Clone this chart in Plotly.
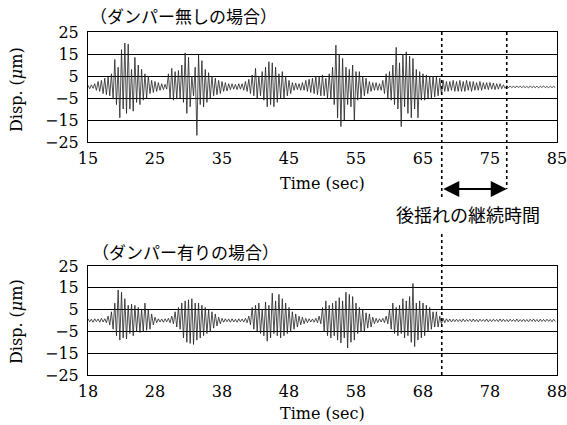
import plotly.graph_objects as go

# ---------------- data ----------------
# Peak displacement (um) in each 0.5 s step: upper peak, then lower peak
t0_top, step = 15.0, 0.5
upper_top = [
    0.8, 1.0, 1.5, 2.5, 3.0, 4.0, 4.5, 6.0, 12.5, 9.0,
    17.0, 20.0, 19.5, 8.0, 13.5, 10.0, 8.0, 6.0, 5.0, 3.0,
    2.5, 2.0, 1.5, 1.2, 6.0, 8.5, 7.0, 7.5, 10.0, 15.5,
    13.5, 5.0, 9.0, 14.5, 12.0, 8.0, 6.5, 5.0, 4.0, 3.0,
    2.5, 2.0, 1.5, 1.5, 1.2, 1.5, 1.5, 2.5, 3.5, 5.5,
    8.5, 5.0, 7.0, 9.0, 11.5, 11.0, 9.0, 6.0, 7.0, 5.0,
    3.0, 2.0, 1.8, 1.5, 2.0, 3.0, 3.5, 4.0, 5.0, 4.5,
    5.5, 4.0, 6.0, 9.0, 19.0, 15.0, 13.0, 9.0, 8.0, 10.0,
    7.0, 7.0, 5.0, 4.0, 2.5, 2.0, 2.0, 1.5, 3.0, 6.0,
    7.0, 10.0, 18.0, 11.0, 15.0, 16.0, 14.0, 13.0, 8.0, 7.0,
    6.0, 5.5, 5.0, 5.0, 4.5, 4.0, 3.0, 2.5, 2.5, 3.0,
    2.5, 3.0, 2.5, 3.0, 2.5, 2.5, 2.0, 2.5, 2.0, 2.0,
    2.0, 1.8, 1.5, 1.5, 1.0, 0.6, 0.5, 0.4, 0.5, 0.4,
    0.4, 0.3, 0.5, 0.3, 0.4, 0.3, 0.5, 0.3, 0.4, 0.3,
]
lower_top = [
    -0.8, -0.6, -1.5, -2.0, -3.0, -3.5, -4.0, -5.5, -8.0, -14.0,
    -10.0, -12.0, -10.0, -11.0, -7.0, -8.0, -6.0, -5.0, -3.0, -2.5,
    -2.0, -1.5, -1.2, -1.0, -5.0, -6.0, -5.5, -5.0, -7.0, -12.0,
    -9.0, -4.0, -22.0, -8.0, -9.0, -7.0, -5.0, -4.0, -3.5, -3.0,
    -2.0, -1.8, -1.2, -1.0, -1.2, -1.0, -1.5, -2.0, -3.0, -4.0,
    -5.0, -4.0, -6.0, -9.0, -8.0, -9.0, -7.0, -5.0, -5.0, -4.0,
    -3.0, -1.5, -1.2, -1.5, -1.5, -2.0, -2.5, -3.0, -3.5, -4.0,
    -4.0, -5.0, -5.0, -8.0, -14.0, -18.0, -15.0, -8.0, -9.0, -15.0,
    -6.0, -5.0, -4.0, -3.0, -2.0, -1.5, -1.5, -1.5, -3.0, -5.0,
    -6.0, -8.0, -10.0, -18.0, -9.0, -12.0, -14.0, -10.0, -14.0, -6.0,
    -6.0, -5.0, -5.0, -4.5, -4.0, -3.5, -2.0, -2.0, -1.5, -2.0,
    -2.0, -2.0, -2.0, -1.5, -2.0, -1.5, -1.5, -1.5, -1.0, -1.2,
    -1.0, -1.2, -1.0, -0.8, -0.6, -0.4, -0.3, -0.4, -0.3, -0.3,
    -0.3, -0.4, -0.3, -0.3, -0.4, -0.2, -0.3, -0.4, -0.3, -0.3,
]

t0_bot = 18.0
upper_bot = [
    0.8, 0.6, 0.8, 0.7, 1.0, 0.8, 2.0, 4.0, 8.0, 14.0,
    13.0, 10.0, 7.0, 7.5, 7.0, 6.0, 5.0, 8.0, 5.0, 3.0,
    1.5, 0.8, 0.7, 0.8, 1.0, 2.0, 4.0, 6.0, 8.0, 9.0,
    9.5, 10.0, 8.0, 8.0, 7.0, 6.0, 5.0, 4.0, 3.0, 1.5,
    1.0, 0.8, 0.7, 0.8, 0.6, 0.8, 0.7, 1.0, 2.0, 6.0,
    7.0, 8.0, 5.0, 8.5, 7.0, 12.5, 9.0, 12.0, 10.0, 8.0,
    6.0, 4.0, 3.0, 2.0, 1.5, 1.0, 0.8, 0.7, 1.0, 2.0,
    6.0, 9.0, 7.0, 8.0, 9.0, 10.5, 9.0, 13.0, 12.0, 11.0,
    8.0, 6.0, 5.0, 3.5, 3.0, 1.5, 1.0, 0.8, 1.0, 2.0,
    5.0, 8.0, 6.0, 7.0, 10.0, 9.0, 11.0, 17.0, 8.0, 9.0,
    8.0, 7.0, 6.0, 4.0, 4.0, 2.0, 1.0, 0.8, 0.7, 0.6,
    0.6, 0.5, 0.7, 0.5, 0.6, 0.7, 0.5, 0.6, 0.5, 0.7,
    0.5, 0.6, 0.5, 0.7, 0.6, 0.5, 0.6, 0.5, 0.7, 0.5,
    0.6, 0.5, 0.6, 0.7, 0.5, 0.6, 0.5, 0.6, 0.5, 0.6,
]
lower_bot = [
    -0.6, -0.8, -0.5, -0.8, -0.7, -1.0, -2.0, -4.0, -7.0, -9.0,
    -8.0, -8.5, -6.0, -7.0, -5.0, -5.5, -5.0, -4.5, -4.0, -2.0,
    -1.0, -0.7, -0.8, -0.6, -1.0, -1.5, -3.0, -4.0, -8.0, -10.0,
    -10.5, -11.0, -9.0, -8.0, -7.0, -6.0, -5.0, -3.5, -2.5, -1.5,
    -0.8, -0.6, -0.8, -0.7, -0.8, -0.6, -0.7, -1.0, -2.0, -4.0,
    -5.0, -6.0, -7.0, -9.5, -8.0, -6.0, -7.0, -8.0, -7.0, -6.0,
    -5.0, -4.0, -3.0, -2.0, -1.5, -1.0, -0.7, -0.8, -1.0, -1.5,
    -5.0, -7.0, -8.0, -7.0, -9.0, -10.3, -8.0, -12.6, -10.0, -9.0,
    -6.0, -5.0, -5.0, -3.5, -3.0, -1.5, -1.0, -0.7, -1.0, -1.5,
    -4.0, -6.0, -7.0, -6.0, -8.0, -7.0, -10.0, -12.0, -9.0, -8.0,
    -7.0, -5.0, -4.0, -3.0, -3.0, -1.5, -1.0, -0.6, -0.7, -0.5,
    -0.5, -0.6, -0.5, -0.4, -0.6, -0.5, -0.6, -0.4, -0.5, -0.6,
    -0.5, -0.4, -0.6, -0.5, -0.5, -0.6, -0.4, -0.5, -0.6, -0.5,
    -0.5, -0.6, -0.4, -0.5, -0.6, -0.5, -0.5, -0.4, -0.6, -0.5,
]

xticks_top = [15, 25, 35, 45, 55, 65, 75, 85]
xticks_bot = [18, 28, 38, 48, 58, 68, 78, 88]
yticks = [-25, -15, -5, 5, 15, 25]

title_top = "（ダンパー無しの場合）"
title_bot = "（ダンパー有りの場合）"
note_text = "後揺れの継続時間"
end_top = 67.8      # end of excitation (top chart, sec)
settle_top = 77.5   # end of residual vibration (top chart, sec)

# ---------------- build figure ----------------
W, H = 567, 425


def px(x):
    return x / W


def py(y):
    return 1 - y / H


def zigzag(t0, up, lo):
    xs, ys = [], []
    for i, (u, l) in enumerate(zip(up, lo)):
        t = t0 + i * step
        xs += [t, t + step / 2]
        ys += [u, l]
    return xs, ys


fig = go.Figure()
xa, ya = zigzag(t0_top, upper_top, lower_top)
xb, yb = zigzag(t0_bot, upper_bot, lower_bot)
fig.add_trace(go.Scatter(x=xa, y=ya, mode="lines", xaxis="x", yaxis="y",
                         line=dict(color="#222222", width=0.8), showlegend=False,
                         hoverinfo="skip"))
fig.add_trace(go.Scatter(x=xb, y=yb, mode="lines", xaxis="x2", yaxis="y2",
                         line=dict(color="#222222", width=0.8), showlegend=False,
                         hoverinfo="skip"))

serif = "DejaVu Serif"
jp = "Noto Sans CJK JP"

common_x = dict(showgrid=False, zeroline=False, showline=True, mirror=True,
                linecolor="black", linewidth=1, ticks="outside", ticklen=2,
                tickcolor="rgba(0,0,0,0)", ticklabeloverflow="allow",
                tickfont=dict(family=serif, size=16, color="black"))
common_y = dict(range=[-25, 25], tickvals=yticks, showgrid=True, gridcolor="black",
                gridwidth=1, zeroline=False, showline=True, mirror=True,
                linecolor="black", linewidth=1, ticks="outside", ticklen=5,
                tickcolor="rgba(0,0,0,0)", ticklabeloverflow="allow",
                tickfont=dict(family=serif, size=16, color="black"))

xdom = [px(88), px(557)]
fig.update_layout(
    width=W, height=H, margin=dict(l=0, r=0, t=0, b=0, autoexpand=False),
    paper_bgcolor="white", plot_bgcolor="white",
    xaxis=dict(domain=xdom, range=[15, 85], tickvals=xticks_top, anchor="y", **common_x),
    yaxis=dict(domain=[py(142), py(32)], anchor="x", **common_y),
    xaxis2=dict(domain=xdom, range=[18, 88], tickvals=xticks_bot, anchor="y2", **common_x),
    yaxis2=dict(domain=[py(375), py(266)], anchor="x2", **common_y),
)

ann = [
    dict(text=title_top, x=px(88), y=py(16), xanchor="left", yanchor="middle",
         font=dict(family=jp, size=17, color="black")),
    dict(text=title_bot, x=px(90), y=py(251), xanchor="left", yanchor="middle",
         font=dict(family=jp, size=17, color="black")),
    dict(text="Disp. (<i>μ</i>m)", x=px(16), y=py(90), textangle=-90,
         xanchor="center", yanchor="middle", font=dict(family=serif, size=16, color="black")),
    dict(text="Disp. (<i>μ</i>m)", x=px(16), y=py(322), textangle=-90,
         xanchor="center", yanchor="middle", font=dict(family=serif, size=16, color="black")),
    dict(text="Time (sec)", x=px(322), y=py(183), xanchor="center", yanchor="middle",
         font=dict(family=serif, size=16, color="black")),
    dict(text="Time (sec)", x=px(322), y=py(413), xanchor="center", yanchor="middle",
         font=dict(family=serif, size=16, color="black")),
    dict(text=note_text, x=px(468), y=py(214), xanchor="center", yanchor="middle",
         font=dict(family=jp, size=18, color="black")),
]
for a in ann:
    a.update(xref="paper", yref="paper", showarrow=False)
# double-headed arrow showing residual-vibration duration
ann.append(dict(x=settle_top, y=py(189), xref="x", yref="paper",
                ax=end_top, ay=0, axref="x", ayref="pixel",
                showarrow=True, arrowside="end+start", arrowhead=2, arrowsize=1.6,
                arrowwidth=2, arrowcolor="black", text=""))
fig.update_layout(annotations=ann)

dot = dict(color="black", width=1.6, dash="dot")
fig.add_shape(type="line", xref="x", yref="paper", x0=end_top, x1=end_top,
              y0=py(32), y1=py(199), line=dot)
fig.add_shape(type="line", xref="x", yref="paper", x0=end_top, x1=end_top,
              y0=py(234), y1=py(375), line=dot)
fig.add_shape(type="line", xref="x", yref="paper", x0=settle_top, x1=settle_top,
              y0=py(32), y1=py(189), line=dot)

fig.write_html("out.html", config={"displayModeBar": False},
               post_script="document.body.style.margin='0';document.body.style.overflow='hidden';")
